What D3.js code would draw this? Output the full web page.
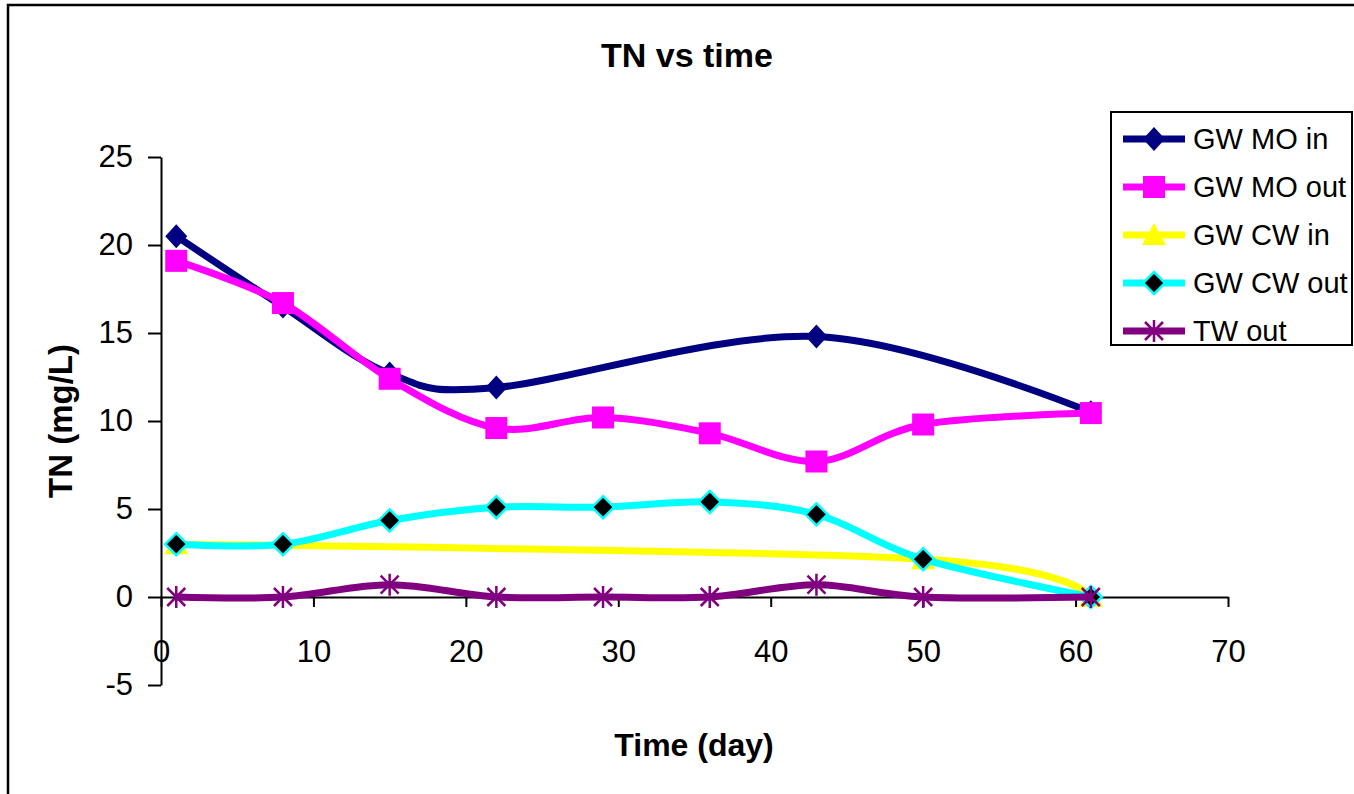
<!DOCTYPE html>
<html>
<head>
<meta charset="utf-8">
<script src="https://cdn.jsdelivr.net/npm/d3@7"></script>
<style>
  html, body { margin: 0; padding: 0; background: #fff; }
  svg { display: block; font-family: "Liberation Sans", Arial, sans-serif; }
</style>
</head>
<body>
<svg id="chart" width="1354" height="794"></svg>
<script>
// ---- data ----
const days = [1, 8, 15, 22, 29, 36, 43, 50, 61];
const gwMoIn  = [20.5, 16.5, 12.7, 11.9, null, null, 14.8, null, 10.5];
const gwMoOut = [19.1, 16.7, 12.4, 9.6, 10.2, 9.3, 7.7, 9.8, 10.45];
const gwCwIn  = [3.0, null, null, null, null, null, null, 2.15, 0];
const gwCwOut = [3.0, 3.0, 4.35, 5.1, 5.1, 5.4, 4.7, 2.15, 0];
const twOut   = [0, 0, 0.7, 0, 0, 0, 0.7, 0, 0];
const seriesNames = ["GW MO in", "GW MO out", "GW CW in", "GW CW out", "TW out"];
const xTicks = [0, 10, 20, 30, 40, 50, 60, 70];
const yTicks = [-5, 0, 5, 10, 15, 20, 25];

const series = [
  {name: seriesNames[0], values: gwMoIn,  color: "#000080", marker: "diamond", fill: "#000080", stroke: "none"},
  {name: seriesNames[1], values: gwMoOut, color: "#FF00FF", marker: "square",  fill: "#FF00FF", stroke: "none"},
  {name: seriesNames[2], values: gwCwIn,  color: "#FFFF00", marker: "triangle",fill: "#FFFF00", stroke: "none"},
  {name: seriesNames[3], values: gwCwOut, color: "#00FFFF", marker: "diamondS",fill: "#000000", stroke: "#00FFFF"},
  {name: seriesNames[4], values: twOut,   color: "#800080", marker: "star",    fill: "none",    stroke: "#800080"}
];

const svg = d3.select("#chart");
const x = d3.scaleLinear().domain([0, 70]).range([161, 1228]);
const y = d3.scaleLinear().domain([-5, 25]).range([685, 157]);

// outer frame
svg.append("rect").attr("x", 8).attr("y", 5).attr("width", 1400).attr("height", 900)
  .attr("fill", "none").attr("stroke", "#000").attr("stroke-width", 2.5);

// title
svg.append("text").attr("x", 687).attr("y", 67).attr("text-anchor", "middle")
  .attr("font-size", 34).attr("font-weight", "bold").text("TN vs time");

const fmt = d => String(d);

// y axis
const yAxis = svg.append("g").attr("transform", `translate(${x(0)},0)`)
  .call(d3.axisLeft(y).tickValues(yTicks).tickSize(13).tickSizeOuter(0).tickPadding(15).tickFormat(fmt));
yAxis.select(".domain").attr("stroke-width", 2);
yAxis.selectAll(".tick line").attr("stroke-width", 2);
yAxis.selectAll("text").attr("font-size", 31).attr("font-family", "Liberation Sans, Arial, sans-serif").attr("fill", "#000");

// x axis at y=0
const xAxis = svg.append("g").attr("transform", `translate(0,${y(0)})`)
  .call(d3.axisBottom(x).tickValues(xTicks).tickSize(10).tickSizeOuter(0).tickFormat(fmt));
xAxis.select(".domain").attr("stroke-width", 2);
xAxis.selectAll(".tick line").attr("stroke-width", 2);
xAxis.selectAll("text").attr("font-size", 31).attr("font-family", "Liberation Sans, Arial, sans-serif")
  .attr("fill", "#000").attr("y", 65).attr("dy", 0);

// axis titles
svg.append("text").attr("x", 694).attr("y", 756).attr("text-anchor", "middle")
  .attr("font-size", 32).attr("font-weight", "bold").text("Time (day)");
svg.append("text").attr("transform", `translate(72,${(y(-5) + y(25)) / 2}) rotate(-90)`)
  .attr("text-anchor", "middle").attr("font-size", 33).attr("font-weight", "bold").text("TN (mg/L)");

// marker drawing
function drawMarker(g, type, s) {
  if (type === "diamond") {
    g.append("path").attr("d", "M0,-12L11,0L0,12L-11,0Z").attr("fill", s.fill);
  } else if (type === "square") {
    g.append("rect").attr("x", -11).attr("y", -11).attr("width", 22).attr("height", 22).attr("fill", s.fill);
  } else if (type === "triangle") {
    g.append("path").attr("d", "M0,-12L12,10L-12,10Z").attr("fill", s.fill);
  } else if (type === "diamondS") {
    g.append("path").attr("d", "M0,-11L11,0L0,11L-11,0Z").attr("fill", s.fill)
      .attr("stroke", s.stroke).attr("stroke-width", 2.5);
  } else if (type === "star") {
    g.append("path").attr("d", "M0,-11V11M-9,-9L9,9M-9,9L9,-9")
      .attr("stroke", s.stroke).attr("stroke-width", 2.5).attr("fill", "none");
  }
}

const line = d3.line().x(d => x(d.t)).y(d => y(d.v)).curve(d3.curveCatmullRom.alpha(0));

series.forEach(s => {
  const pts = days.map((t, i) => ({t, v: s.values[i]})).filter(d => d.v !== null);
  const g = svg.append("g");
  g.append("path").datum(pts).attr("d", line).attr("fill", "none")
    .attr("stroke", s.color).attr("stroke-width", 7).attr("stroke-linejoin", "round");
  pts.forEach(d => {
    const mg = g.append("g").attr("transform", `translate(${x(d.t)},${y(d.v)})`);
    drawMarker(mg, s.marker, s);
  });
});

// legend
const lg = svg.append("g");
lg.append("rect").attr("x", 1111).attr("y", 112).attr("width", 241).attr("height", 233)
  .attr("fill", "#fff").attr("stroke", "#000").attr("stroke-width", 2);
const legendY = d3.scalePoint().domain(seriesNames).range([139, 331]);
series.forEach(s => {
  const cy = legendY(s.name);
  lg.append("line").attr("x1", 1123).attr("x2", 1185).attr("y1", cy).attr("y2", cy)
    .attr("stroke", s.color).attr("stroke-width", 7);
  const mg = lg.append("g").attr("transform", `translate(1154,${cy})`);
  drawMarker(mg, s.marker, s);
  lg.append("text").attr("x", 1193).attr("y", cy).attr("dy", "0.36em")
    .attr("font-size", 29).text(s.name);
});
</script>
</body>
</html>
